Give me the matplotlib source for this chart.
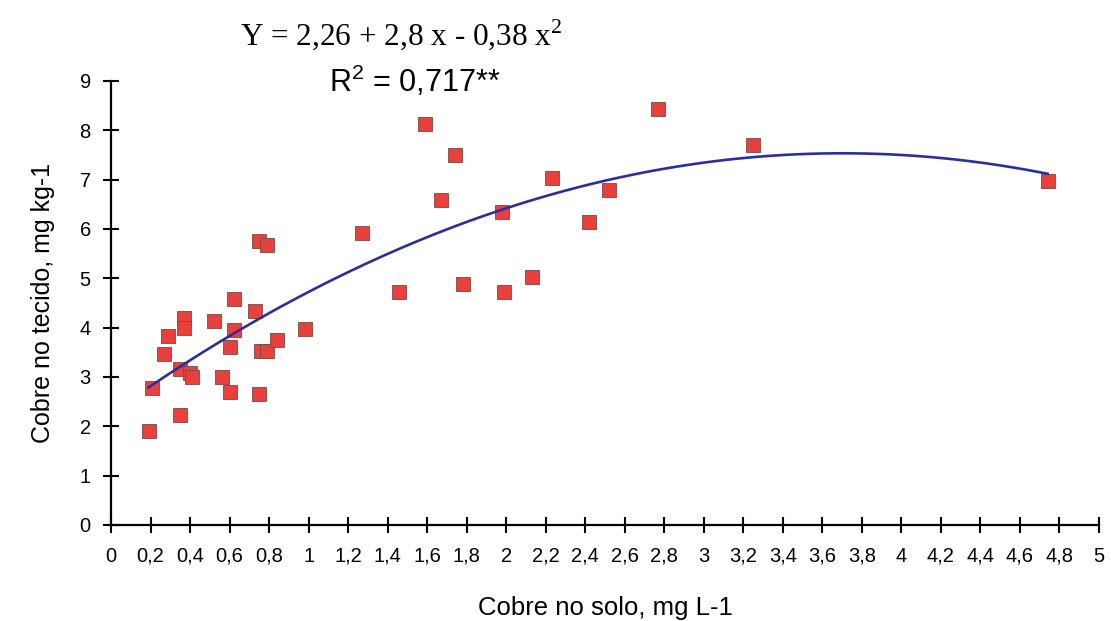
import numpy as np
import matplotlib.pyplot as plt
from matplotlib.ticker import FuncFormatter

# dados
cobre_solo = [0.19, 0.21, 0.27, 0.29, 0.35, 0.35, 0.37, 0.37, 0.40, 0.41,
              0.52, 0.56, 0.60, 0.60, 0.62, 0.62, 0.73, 0.75, 0.75, 0.76,
              0.79, 0.79, 0.84, 0.98, 1.27, 1.46, 1.59, 1.67, 1.74, 1.78,
              1.98, 1.99, 2.13, 2.23, 2.42, 2.52, 2.77, 3.25, 4.74]
cobre_tecido = [1.91, 2.77, 3.46, 3.83, 2.22, 3.16, 4.19, 3.99, 3.08, 2.99,
                4.14, 2.99, 2.70, 3.60, 3.95, 4.58, 4.33, 2.66, 5.76, 3.53,
                3.53, 5.68, 3.74, 3.98, 5.91, 4.73, 8.12, 6.59, 7.49, 4.89,
                6.35, 4.73, 5.03, 7.04, 6.15, 6.79, 8.43, 7.70, 6.98]
# coeficientes da curva desenhada (equação impressa: 2,26 + 2,8x - 0,38x²)
coef = [2.26, 2.85, -0.385]
x_ticks = np.round(np.arange(0, 5.01, 0.2), 1)
y_ticks = list(range(0, 10))

plt.rcParams['font.family'] = ['Liberation Sans', 'DejaVu Sans']

fig = plt.figure(figsize=(11.11, 6.21), dpi=100)
ax = fig.add_axes([0.0999, 0.1546, 0.8893, 0.715])

# curva de regressão
xc = np.linspace(min(cobre_solo), max(cobre_solo), 200)
yc = coef[0] + coef[1] * xc + coef[2] * xc**2
ax.plot(xc, yc, color="#2b2f9e", lw=1.9, zorder=3)

ax.scatter(cobre_solo, cobre_tecido, marker="s", s=110, color="#e8403c",
           edgecolors="#7a4a40", linewidths=0.6, zorder=2)

ax.set_xlim(0, 5)
ax.set_ylim(0, 9)
ax.set_xticks(x_ticks)
ax.set_yticks(y_ticks)
fmt = FuncFormatter(lambda v, p: f"{v:g}".replace(".", ","))
ax.xaxis.set_major_formatter(fmt)
ax.yaxis.set_major_formatter(fmt)
ax.tick_params(direction="inout", length=11, width=1.5, labelsize=14.5,
               colors="black")
ax.tick_params(axis="x", pad=10)
ax.tick_params(axis="y", pad=9)
for s in ["top", "right"]:
    ax.spines[s].set_visible(False)
for s in ["left", "bottom"]:
    ax.spines[s].set_linewidth(1.6)

ax.set_xlabel("Cobre no solo, mg L-1", fontsize=18.5, labelpad=22)
ax.set_ylabel("Cobre no tecido, mg kg-1", fontsize=18, labelpad=18)

fig.text(0.361, 0.9275, "Y = 2,26 + 2,8 x - 0,38 x$^\\mathregular{2}$",
         family="Liberation Serif", fontsize=22.5, ha="center", va="baseline")
fig.text(0.373, 0.852, "R$^\\mathregular{2}$ = 0,717**",
         fontsize=22, ha="center", va="baseline")

plt.savefig("out.png", dpi=100)
